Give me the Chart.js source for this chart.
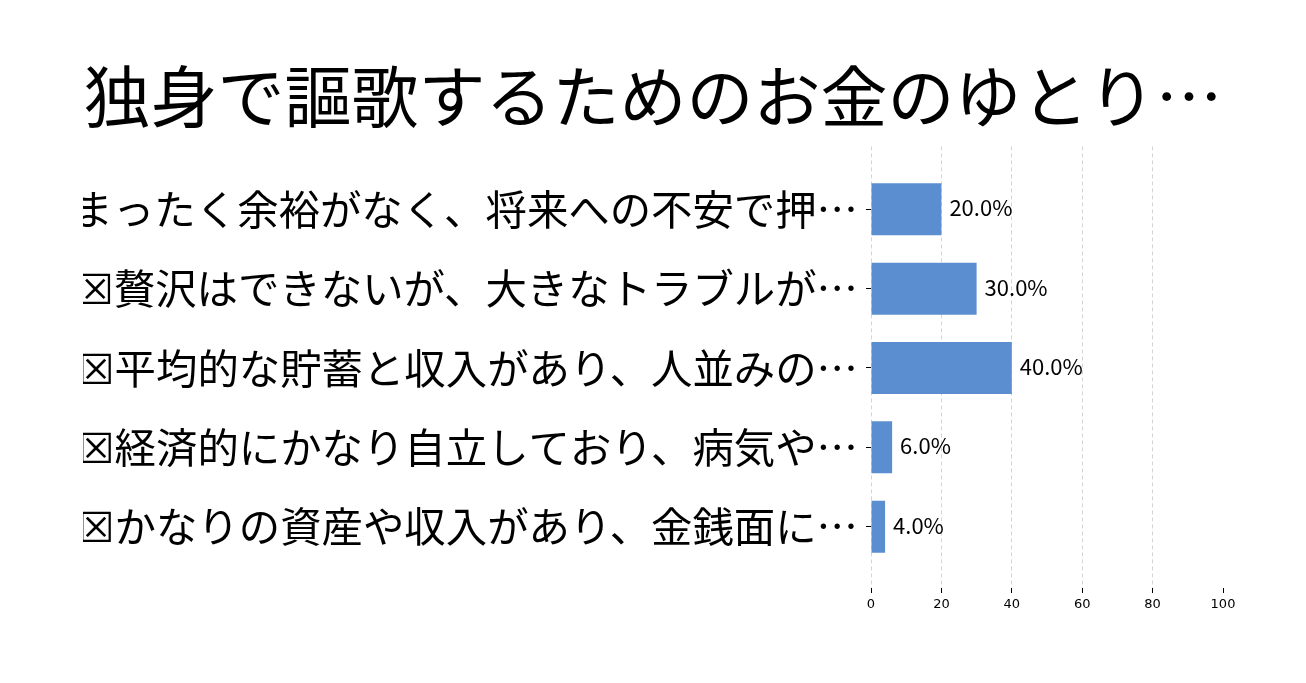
<!DOCTYPE html>
<html>
<head>
<meta charset="utf-8">
<script src="https://cdn.jsdelivr.net/npm/chart.js@4/dist/chart.umd.min.js"></script>
<style>
  body { margin: 0; background: #fff; }
  #chart { display: block; }
</style>
</head>
<body>
<canvas id="chart" width="1306" height="683"></canvas>
<script>
const titleText = "独身で謳歌するためのお金のゆとり…"
const categories = [
  "まったく余裕がなく、将来への不安で押…",
  "☒贅沢はできないが、大きなトラブルが…",
  "☒平均的な貯蓄と収入があり、人並みの…",
  "☒経済的にかなり自立しており、病気や…",
  "☒かなりの資産や収入があり、金銭面に…",
]
const values = [20, 30, 40, 6, 4]
const xTicks = [0, 20, 40, 60, 80, 100]

const jpFont = "'Noto Sans CJK JP', 'DejaVu Sans', sans-serif"

// percentage text to the right of each bar
const valueLabels = {
  id: "valueLabels",
  afterDatasetsDraw(chart) {
    const ctx = chart.ctx
    const meta = chart.getDatasetMeta(0)
    ctx.save()
    ctx.font = "22px " + jpFont
    ctx.fillStyle = "#000"
    ctx.textAlign = "left"
    ctx.textBaseline = "middle"
    meta.data.forEach((bar, i) => {
      ctx.fillText(values[i].toFixed(1) + "%", bar.x + 8, bar.y - 1.5)
    })
    ctx.restore()
  },
}

new Chart(document.getElementById("chart"), {
  type: "bar",
  data: {
    datasets: [
      {
        data: values.map((v, i) => ({ x: v, y: i })),
        backgroundColor: "#5b8ed0",
        borderWidth: 0,
        categoryPercentage: 1,
        barPercentage: 0.655,
      },
    ],
  },
  options: {
    indexAxis: "y",
    responsive: false,
    animation: false,
    // equal side padding keeps the title centred on the page
    layout: { padding: { left: 83, right: 83, top: 0, bottom: 0 } },
    plugins: {
      legend: { display: false },
      tooltip: { enabled: false },
      title: {
        display: true,
        text: titleText,
        color: "#000",
        font: { family: jpFont, size: 67, weight: "normal" },
        padding: { top: 56, bottom: 10 },
      },
    },
    scales: {
      x: {
        type: "linear",
        position: "bottom",
        min: 0,
        max: 100,
        afterBuildTicks: (scale) => {
          scale.ticks = xTicks.map((v) => ({ value: v }))
        },
        afterFit: (scale) => {
          scale.height = 95
        },
        ticks: {
          color: "#000",
          padding: 4,
          font: { family: "'DejaVu Sans', sans-serif", size: 13 },
        },
        grid: {
          color: (c) => (c.tick && c.tick.value === 100 ? "rgba(0,0,0,0)" : "#d4d4d4"),
          lineWidth: 1,
          tickColor: "#000",
          tickLength: 5,
          tickBorderDash: [],
        },
        border: { display: false, dash: [4, 3] },
      },
      y: {
        type: "linear",
        reverse: true,
        offset: false,
        min: -0.793,
        max: 4.773,
        afterBuildTicks: (scale) => {
          scale.ticks = categories.map((_, i) => ({ value: i }))
        },
        afterFit: (scale) => {
          scale.width = 871 - 83
        },
        ticks: {
          color: "#000",
          padding: 8,
          font: { family: jpFont, size: 41.4 },
          callback: (v) => categories[v],
        },
        grid: {
          display: true,
          offset: false,
          drawOnChartArea: false,
          drawTicks: true,
          tickLength: 5,
          tickColor: "#000",
        },
        border: { display: false },
      },
    },
  },
  plugins: [valueLabels],
})
</script>
</body>
</html>
